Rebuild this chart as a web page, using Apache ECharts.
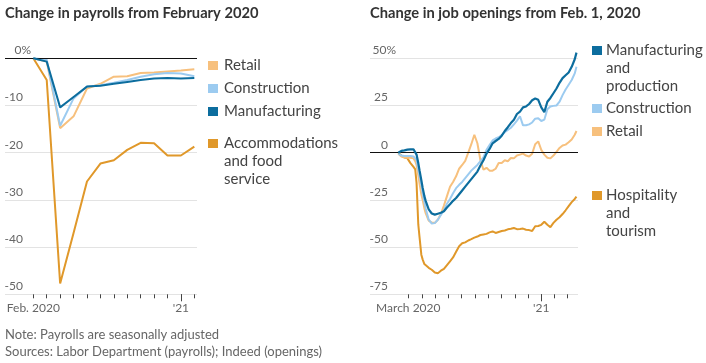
<!DOCTYPE html>
<html><head><meta charset="utf-8">
<script src="https://cdn.jsdelivr.net/npm/echarts@6/dist/echarts.min.js"></script>
<style>html,body{margin:0;padding:0;background:#fff}#c{width:706px;height:363px}</style>
</head><body><div id="c"></div>
<script>
// ---------- Left chart: change in payrolls from February 2020 (%) ----------
const payrollMonths = [0,1,2,3,4,5,6,7,8,9,10,11,12]; // Feb 2020 ... Feb 2021
const payrollTickLabels = {0: 'Feb. 2020', 11: "'21"};
const payrollRetail        = [0, -0.7, -14.8, -12.3, -6.4, -5.4, -3.9, -3.8, -3.1, -3.0, -2.8, -2.6, -2.3];
const payrollConstruction  = [0, -0.3, -14.3, -8.5, -6.0, -5.7, -5.2, -4.6, -3.9, -3.4, -3.1, -3.2, -3.8];
const payrollManufacturing = [0, -0.7, -10.4, -8.2, -6.0, -5.8, -5.4, -5.0, -4.6, -4.3, -4.2, -4.3, -4.2];
const payrollAccommodation = [0, -4.6, -47.7, -37.0, -26.1, -22.3, -21.6, -19.4, -17.9, -18.0, -20.6, -20.6, -18.7];

// ---------- Right chart: change in job openings from Feb. 1, 2020 (%) ----------
const openDates = [
 '2020-02-07','2020-02-14','2020-02-21','2020-02-28','2020-03-06','2020-03-13','2020-03-17','2020-03-20',
 '2020-03-24','2020-03-27','2020-03-31','2020-04-03','2020-04-07','2020-04-10','2020-04-17','2020-04-24',
 '2020-05-01','2020-05-08','2020-05-15','2020-05-22','2020-05-29','2020-06-05','2020-06-12','2020-06-19',
 '2020-06-26','2020-07-03','2020-07-10','2020-07-17','2020-07-24','2020-07-31','2020-08-07','2020-08-14',
 '2020-08-21','2020-08-28','2020-09-04','2020-09-11','2020-09-18','2020-09-25','2020-10-02','2020-10-09',
 '2020-10-16','2020-10-23','2020-10-30','2020-11-06','2020-11-13','2020-11-20','2020-11-27','2020-12-04',
 '2020-12-11','2020-12-18','2020-12-25','2021-01-01','2021-01-08','2021-01-15','2021-01-22','2021-01-29',
 '2021-02-05','2021-02-12','2021-02-19','2021-02-26','2021-03-05','2021-03-12','2021-03-19','2021-03-23'
];
const openManufacturing = [
 0, 1.0, 1.2, 1.6, 1.8, 1.8, 1.5, -1.0,
 -5.5, -9.5, -14.5, -18.5, -23.0, -25.5, -30.0, -32.2,
 -32.8, -32.3, -31.8, -31.0, -29.0, -27.3, -25.5, -24.0,
 -22.0, -20.0, -18.0, -16.0, -14.0, -12.0, -10.0, -6.8,
 -4.0, -0.5, 2.0, 5.0, 6.2, 7.3, 9.0, 11.5,
 13.5, 15.7, 17.5, 20.5, 21.8, 24.0, 24.5, 25.8,
 27.8, 28.7, 28.0, 24.0, 21.5, 27.0, 29.0, 31.5,
 34.0, 37.0, 39.5, 41.0, 42.5, 45.5, 49.5, 53.0
];
const openConstruction = [
 -0.5, -1.5, -1.8, -1.8, -1.8, -2.0, -2.8, -3.8,
 -9.0, -12.5, -17.0, -21.5, -26.0, -29.5, -35.5, -37.5,
 -37.3, -35.5, -33.0, -30.5, -27.0, -24.5, -21.5, -18.8,
 -17.0, -15.5, -13.5, -11.5, -9.5, -8.0, -6.5, -4.5,
 -2.5, 1.5, 4.0, 6.5, 7.5, 8.2, 9.3, 10.8,
 12.0, 13.2, 15.0, 17.0, 19.3, 14.5, 14.5, 15.0,
 16.0, 18.0, 18.3, 16.8, 17.5, 23.0, 24.5, 24.8,
 25.0, 27.0, 30.5, 33.5, 36.0, 38.5, 42.0, 45.5
];
const openRetail = [
 -0.5, -2.0, -2.5, -2.7, -2.7, -3.0, -4.5, -6.5,
 -12.0, -16.5, -22.0, -25.0, -29.5, -32.0, -36.0, -37.0,
 -37.2, -35.5, -32.5, -28.0, -23.0, -18.0, -15.5, -12.5,
 -8.5, -6.5, -4.3, 0.0, 4.5, 9.5, 5.0, -4.0,
 -9.0, -8.0, -9.5, -9.5, -8.5, -5.5, -5.5, -4.0,
 -4.5, -2.8, -3.0, -1.5, -1.0, -0.5, -1.5, -2.0,
 -0.5, 4.5, 6.0, 1.5, -1.0, -2.7, -3.0, -1.5,
 0.5, 2.5, 3.8, 4.3, 5.5, 7.0, 9.5, 11.5
];
const openHospitality = [
 0, -1.5, -2.5, -3.0, -5.5, -7.5, -8.8, -16.0,
 -38.0, -45.0, -54.0, -56.5, -59.0, -60.0, -61.0, -62.0,
 -63.5, -63.8, -62.5, -61.5, -59.5, -57.5, -55.5, -52.5,
 -49.5, -48.0, -47.5, -46.5, -45.8, -45.0, -44.4, -43.6,
 -43.3, -43.0, -42.2, -41.7, -42.5, -42.0, -41.5, -41.2,
 -40.6, -40.3, -39.9, -40.5, -40.4, -40.2, -40.8, -41.0,
 -41.5, -39.0, -38.8, -38.2, -36.6, -38.2, -39.4, -37.2,
 -35.5, -34.2, -32.5, -30.5, -28.3, -26.2, -24.5, -23.3
];
const openMonthTicks = ['2020-03-01','2020-04-01','2020-05-01','2020-06-01','2020-07-01','2020-08-01','2020-09-01',
 '2020-10-01','2020-11-01','2020-12-01','2021-01-01','2021-02-01','2021-03-01'];
const openTickLabels = {'2020-03-01': 'March 2020', '2021-01-01': "'21"};

// ---------- Colours ----------
const C_RETAIL = '#f7c07d', C_CONSTR = '#9ccbf0', C_MANUF = '#0c6d9e', C_ACCOM = '#e0982a';

const FONT = 'Lato, "Noto Sans", sans-serif';
const chart = echarts.init(document.getElementById('c'), null, {renderer: 'canvas'});
// day number since 2020-03-01 (UTC) for a date string
const day = s => Math.round((Date.parse(s + 'T00:00:00Z') - Date.parse('2020-03-01T00:00:00Z')) / 86400000);

const PCT_W = 8; // width the hanging "%" takes
function yLabel(top) {
  const base = {fontSize: 12, fontFamily: FONT, color: '#666', lineHeight: 14};
  return {
    inside: true, margin: 18 + PCT_W, align: 'right', verticalAlign: 'bottom',
    fontSize: 12, fontFamily: FONT, color: '#666', lineHeight: 14, padding: [0,0,1,0],
    formatter: v => v === top ? '{a|' + v + '%}' : '{b|' + v + '}',
    rich: {a: Object.assign({}, base), b: Object.assign({padding: [0, PCT_W, 0, 0]}, base)}
  };
}
const splitGray = {show: true, lineStyle: {color: '#e3e3e3', width: 1}};
const zeroLine = {silent: true, symbol: ['none','none'], label: {show: false},
  lineStyle: {color: '#111', width: 1, type: 'solid'}, data: [{yAxis: 0}], animation: false};

function line(name, color, xi, data, z, w) {
  return {name, type: 'line', xAxisIndex: xi, yAxisIndex: xi, data, showSymbol: false, symbol: 'none',
    lineStyle: {color, width: w || 2}, itemStyle: {color}, z, animation: false, clip: false};
}

const lData = arr => payrollMonths.map((m, i) => [m, arr[i]]);
const rData = arr => openDates.map((d, i) => [day(d), arr[i]]);

const accomSeries = line('Accommodations and food service', C_ACCOM, 0, lData(payrollAccommodation), 2);
accomSeries.markLine = zeroLine;
const hospSeries = line('Hospitality and tourism', C_ACCOM, 2, rData(openHospitality), 2);
hospSeries.markLine = zeroLine;

const rTickDays = openMonthTicks.map(day);
const rLabelMap = {};
Object.keys(openTickLabels).forEach(k => { rLabelMap[day(k)] = openTickLabels[k]; });

const option = {
  animation: false,
  grid: [
    {left: 5, width: 192, top: 58.3, height: 236, outerBoundsMode: 'none'},
    {left: 5, width: 192, top: 58.3, height: 236, outerBoundsMode: 'none'},
    {left: 370, width: 208, top: 58.3, height: 236, outerBoundsMode: 'none'},
    {left: 370, width: 208, top: 58.3, height: 236, outerBoundsMode: 'none'}
  ],
  xAxis: [
    {gridIndex: 0, type: 'value', min: -2.11, max: 12.2,
      axisLine: {show: false, onZero: false}, splitLine: {show: false},
      axisTick: {show: true, customValues: payrollMonths, length: 4, lineStyle: {color: '#444', width: 1}},
      axisLabel: {show: true, customValues: Object.keys(payrollTickLabels).map(Number), margin: 8,
        formatter: v => payrollTickLabels[v] || '', fontSize: 12, fontFamily: FONT, color: '#666'}},
    {gridIndex: 1, type: 'value', min: -2.11, max: 12.2,
      axisLine: {show: false, onZero: false}, splitLine: {show: false},
      axisTick: {show: true, customValues: [11], length: 7, lineStyle: {color: '#444', width: 1}},
      axisLabel: {show: false}},
    {gridIndex: 2, type: 'value', min: -88.1, max: 390.5,
      axisLine: {show: false, onZero: false}, splitLine: {show: false},
      axisTick: {show: true, customValues: rTickDays, length: 4, lineStyle: {color: '#444', width: 1}},
      axisLabel: {show: true, customValues: Object.keys(rLabelMap).map(Number), margin: 8,
        formatter: v => rLabelMap[v] || '', fontSize: 12, fontFamily: FONT, color: '#666'}},
    {gridIndex: 3, type: 'value', min: -88.1, max: 390.5,
      axisLine: {show: false, onZero: false}, splitLine: {show: false},
      axisTick: {show: true, customValues: [day('2021-01-01')], length: 7, lineStyle: {color: '#444', width: 1}},
      axisLabel: {show: false}}
  ],
  yAxis: [
    {gridIndex: 0, type: 'value', min: -50, max: 0, interval: 10, axisLine: {show: false}, axisTick: {show: false},
      splitLine: splitGray, axisLabel: yLabel(0)},
    {gridIndex: 1, type: 'value', min: -50, max: 0, interval: 10, show: false},
    {gridIndex: 2, type: 'value', min: -75, max: 50, interval: 25, axisLine: {show: false}, axisTick: {show: false},
      splitLine: splitGray, axisLabel: yLabel(50)},
    {gridIndex: 3, type: 'value', min: -75, max: 50, interval: 25, show: false}
  ],
  series: [
    accomSeries,
    line('Retail', C_RETAIL, 0, lData(payrollRetail), 3),
    line('Construction', C_CONSTR, 0, lData(payrollConstruction), 4),
    line('Manufacturing', C_MANUF, 0, lData(payrollManufacturing), 5),
    hospSeries,
    line('Retail', C_RETAIL, 2, rData(openRetail), 3),
    line('Construction', C_CONSTR, 2, rData(openConstruction), 4),
    line('Manufacturing and production', C_MANUF, 2, rData(openManufacturing), 5, 2.2)
  ],
  graphic: []
};

// titles, legends, notes
const G = option.graphic;
function txt(text, x, y, opts) {
  G.push({type: 'text', left: x, top: y, silent: true, style: Object.assign({
    text, fill: '#333', font: '15px ' + FONT, lineHeight: 18}, opts || {})});
}
function key(color, x, y, label, tx) {
  G.push({type: 'rect', left: x, top: y, silent: true, shape: {width: 10, height: 9}, style: {fill: color}});
  txt(label, tx, y - 4.5, {fill: '#444', font: '15px ' + FONT, lineHeight: 18});
}
txt('Change in payrolls from February 2020', 5, 4, {font: 'bold 14.7px ' + FONT, fill: '#333'});
txt('Change in job openings from Feb. 1, 2020', 370, 4, {font: 'bold 14.7px ' + FONT, fill: '#333'});

key(C_RETAIL, 208, 61, 'Retail', 224);
key(C_CONSTR, 208, 84, 'Construction', 224);
key(C_MANUF, 208, 107, 'Manufacturing', 224);
key(C_ACCOM, 208, 139, 'Accommodations\nand food\nservice', 224);

key(C_MANUF, 592, 46, 'Manufacturing\nand\nproduction', 606);
key(C_CONSTR, 592, 104, 'Construction', 606);
key(C_RETAIL, 592, 127, 'Retail', 606);
key(C_ACCOM, 592, 191, 'Hospitality\nand\ntourism', 606);

txt('Note: Payrolls are seasonally adjusted', 5, 327, {font: '13px ' + FONT, fill: '#666', lineHeight: 15});
txt('Sources: Labor Department (payrolls); Indeed (openings)', 5, 344, {font: '13px ' + FONT, fill: '#666', lineHeight: 15});

chart.setOption(option);
</script></body></html>
